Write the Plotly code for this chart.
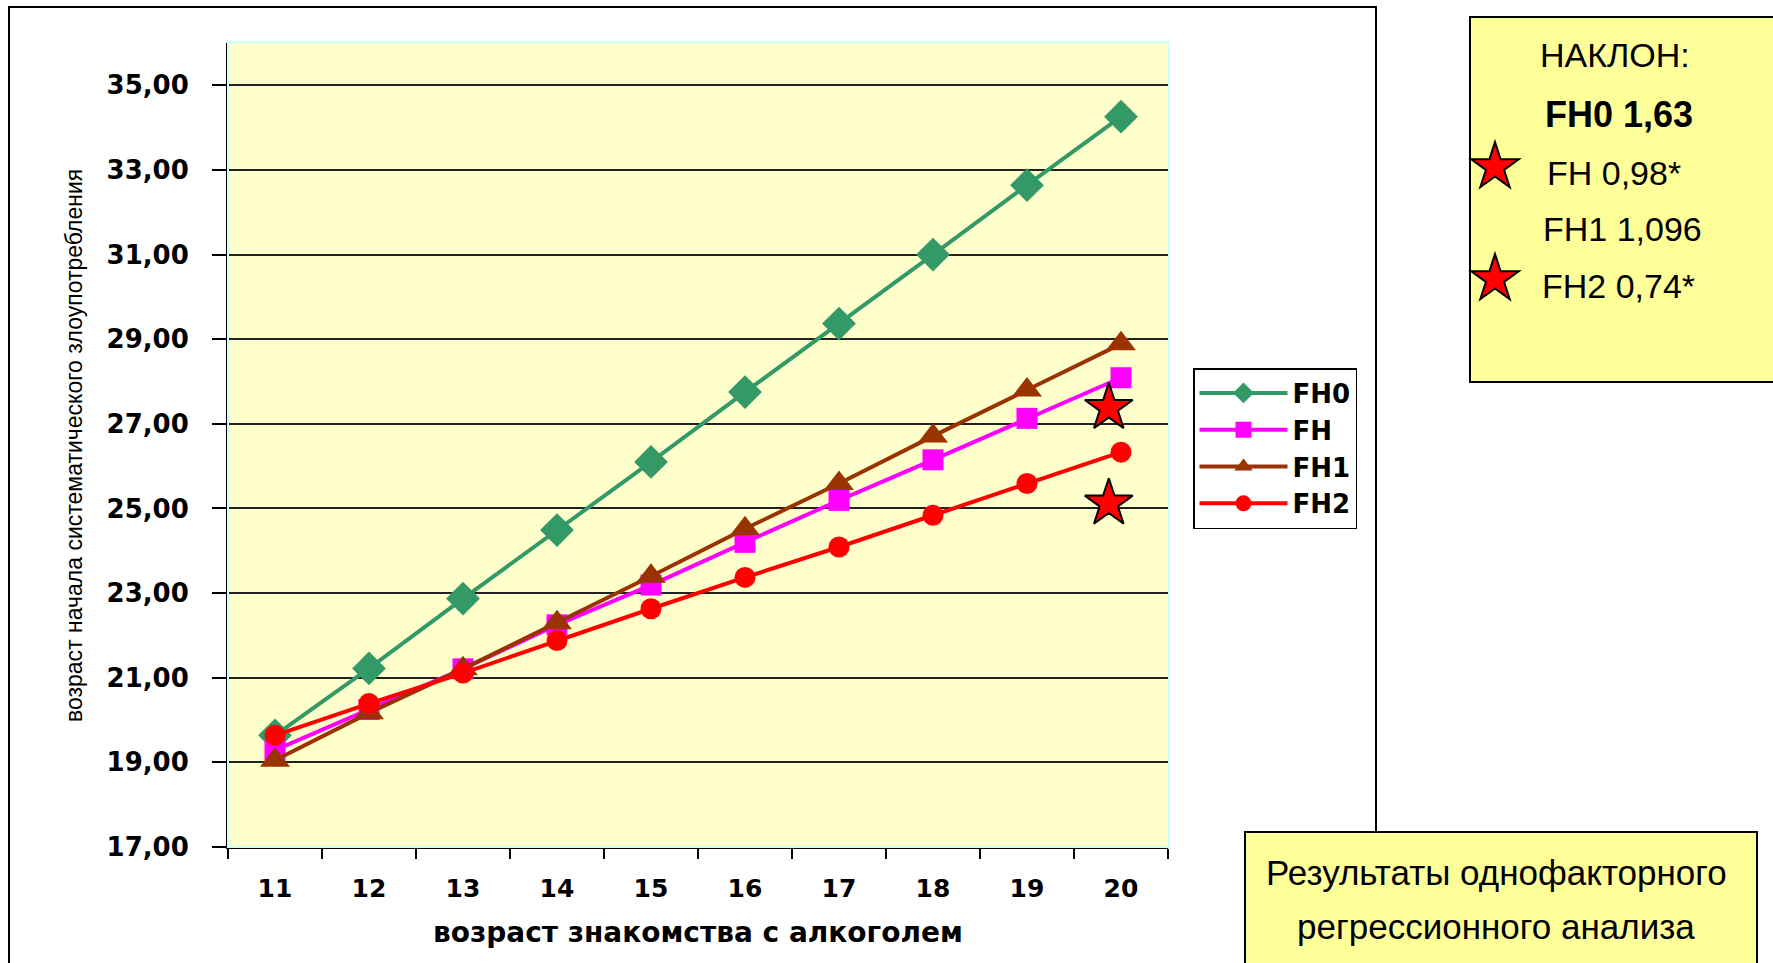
import math
import plotly.graph_objects as go

# Canvas size (px)
W, H = 1773, 963

# ---- data -------------------------------------------------------------
ages = [11, 12, 13, 14, 15, 16, 17, 18, 19, 20]

fh0 = [19.64, 21.22, 22.87, 24.49, 26.10, 27.75, 29.37, 31.00, 32.64, 34.26]
fh = [19.29, 20.25, 21.21, 22.25, 23.19, 24.20, 25.19, 26.15, 27.13, 28.09]
fh1 = [19.05, 20.17, 21.21, 22.30, 23.40, 24.52, 25.59, 26.71, 27.80, 28.89]
fh2 = [19.64, 20.39, 21.11, 21.88, 22.63, 23.37, 24.09, 24.84, 25.59, 26.33]

series_names = ["FH0", "FH", "FH1", "FH2"]
series_values = [fh0, fh, fh1, fh2]
series_colors = ["#339966", "#FF00FF", "#993300", "#FF0000"]
series_symbols = ["diamond", "square", "triangle-up", "circle"]
series_sizes = [26, 21, 26, 21]

# significance stars next to the FH and FH2 line ends
star_x = [19.87, 19.87]
star_y = [27.38, 25.12]

y_ticks = [17, 19, 21, 23, 25, 27, 29, 31, 33, 35]

x_title = "возраст знакомства с алкоголем"
y_title = "возраст начала систематического злоупотребления"

slope_lines = ["НАКЛОН:", "<b>FH0 1,63</b>", "FH 0,98*", "FH1 1,096", "FH2 0,74*"]
summary_lines = ["Результаты однофакторного", "регрессионного анализа"]

# ---- helpers: pixel -> paper ------------------------------------------
def px(x):
    return x / W


def py(y):
    return 1 - y / H


BOLD = "DejaVu Sans"
PLAIN = "Liberation Sans, Arial, sans-serif"

fig = go.Figure()

for name, vals, col, sym, sz in zip(series_names, series_values, series_colors,
                                    series_symbols, series_sizes):
    fig.add_trace(go.Scatter(
        x=ages, y=vals, name=name, mode="lines+markers",
        line=dict(color=col, width=4),
        marker=dict(symbol=sym, size=sz, color=col),
        cliponaxis=False,
    ))

fig.add_trace(go.Scatter(
    x=star_x, y=star_y, mode="markers", showlegend=False, hoverinfo="skip",
    marker=dict(symbol="star", size=36, color="#FF0000",
                line=dict(color="black", width=2)),
    cliponaxis=False,
))

# plot area in pixels
PL, PR, PT, PB = 228, 1168, 43, 847

shapes = []
# outer chart frame
shapes.append(dict(type="rect", xref="paper", yref="paper",
                   x0=px(9), x1=px(1376), y0=py(7), y1=py(1010),
                   line=dict(color="black", width=2), fillcolor="rgba(0,0,0,0)",
                   layer="below"))
# light cyan edge of the plotting area
shapes.append(dict(type="rect", xref="paper", yref="paper",
                   x0=px(PL), x1=px(PR + 1), y0=py(PB), y1=py(PT - 1),
                   line=dict(color="#CCFFFF", width=2), fillcolor="rgba(0,0,0,0)",
                   layer="above"))
# slope box
shapes.append(dict(type="rect", xref="paper", yref="paper",
                   x0=px(1470), x1=px(1800), y0=py(17), y1=py(382),
                   line=dict(color="black", width=2), fillcolor="#FFFF99",
                   layer="above"))
# summary box
shapes.append(dict(type="rect", xref="paper", yref="paper",
                   x0=px(1245), x1=px(1757), y0=py(832), y1=py(1010),
                   line=dict(color="black", width=2), fillcolor="#FFFF99",
                   layer="above"))


def star_path(cx, cy, R):
    r = R * 0.382
    pts = []
    for i in range(10):
        ang = math.radians(-90 + i * 36)
        rad = R if i % 2 == 0 else r
        pts.append((cx + rad * math.cos(ang), cy + rad * math.sin(ang)))
    return "M " + " L ".join(f"{px(x):.5f},{py(y):.5f}" for x, y in pts) + " Z"


for cy in (167, 279):
    shapes.append(dict(type="path", xref="paper", yref="paper",
                       path=star_path(1495, cy, 25),
                       fillcolor="#FF0000", line=dict(color="black", width=2),
                       layer="above"))

annotations = []
annotations.append(dict(text=y_title, textangle=-90, xref="paper", yref="paper",
                        x=px(74), y=py(446), showarrow=False,
                        xanchor="center", yanchor="middle",
                        font=dict(family=PLAIN, size=23, color="black")))
annotations.append(dict(text=x_title, xref="paper", yref="paper",
                        x=px(698), y=py(932), showarrow=False,
                        xanchor="center", yanchor="middle",
                        font=dict(family=BOLD, size=28, color="black", weight="bold")))

slope_pos = [(1615, 55), (1619, 114), (1614, 173), (1622, 229), (1618, 286)]
slope_sizes = [34, 36, 34, 34, 34]
for txt, (x, y), sz in zip(slope_lines, slope_pos, slope_sizes):
    annotations.append(dict(text=txt, xref="paper", yref="paper",
                            x=px(x), y=py(y), showarrow=False,
                            xanchor="center", yanchor="middle",
                            font=dict(family=PLAIN, size=sz, color="black")))

summary_pos = [(1496, 872), (1496, 926)]
for txt, (x, y) in zip(summary_lines, summary_pos):
    annotations.append(dict(text=txt, xref="paper", yref="paper",
                            x=px(x), y=py(y), showarrow=False,
                            xanchor="center", yanchor="middle",
                            font=dict(family=PLAIN, size=35, color="black")))

fig.update_layout(
    width=W, height=H, autosize=False,
    margin=dict(l=0, r=0, t=0, b=0, pad=0),
    paper_bgcolor="white",
    plot_bgcolor="#FFFFCC",
    separators=", ",
    showlegend=True,
    legend=dict(x=px(1193), y=py(368), xanchor="left", yanchor="top",
                bordercolor="black", borderwidth=1.5, bgcolor="white",
                font=dict(family=BOLD, size=26, color="black", weight="bold"),
                traceorder="normal", itemwidth=88),
    xaxis=dict(domain=[px(PL), px(PR)], range=[10.5, 20.5], automargin=False,
               tickmode="array", tickvals=ages, ticktext=[str(a) for a in ages],
               ticks="", showgrid=False, zeroline=False,
               showline=True, linecolor="black", linewidth=2,
               ticklabelstandoff=18,
               tickfont=dict(family=BOLD, size=25, color="black", weight="bold"),
               minor=dict(tickmode="linear", tick0=10.5, dtick=1, ticks="outside",
                          ticklen=10, tickwidth=2, tickcolor="black", showgrid=False)),
    yaxis=dict(domain=[py(PB), py(PT)], range=[17, 36], automargin=False,
               tickmode="array", tickvals=y_ticks, tickformat=".2f",
               ticks="outside", ticklen=14, tickwidth=2, tickcolor="black",
               showgrid=True, gridcolor="#222222", gridwidth=1.5,
               zeroline=False, showline=True, linecolor="black", linewidth=2,
               ticklabelstandoff=18,
               tickfont=dict(family=BOLD, size=26, color="black", weight="bold")),
    shapes=shapes,
    annotations=annotations,
)

fig.write_html("out.html")
